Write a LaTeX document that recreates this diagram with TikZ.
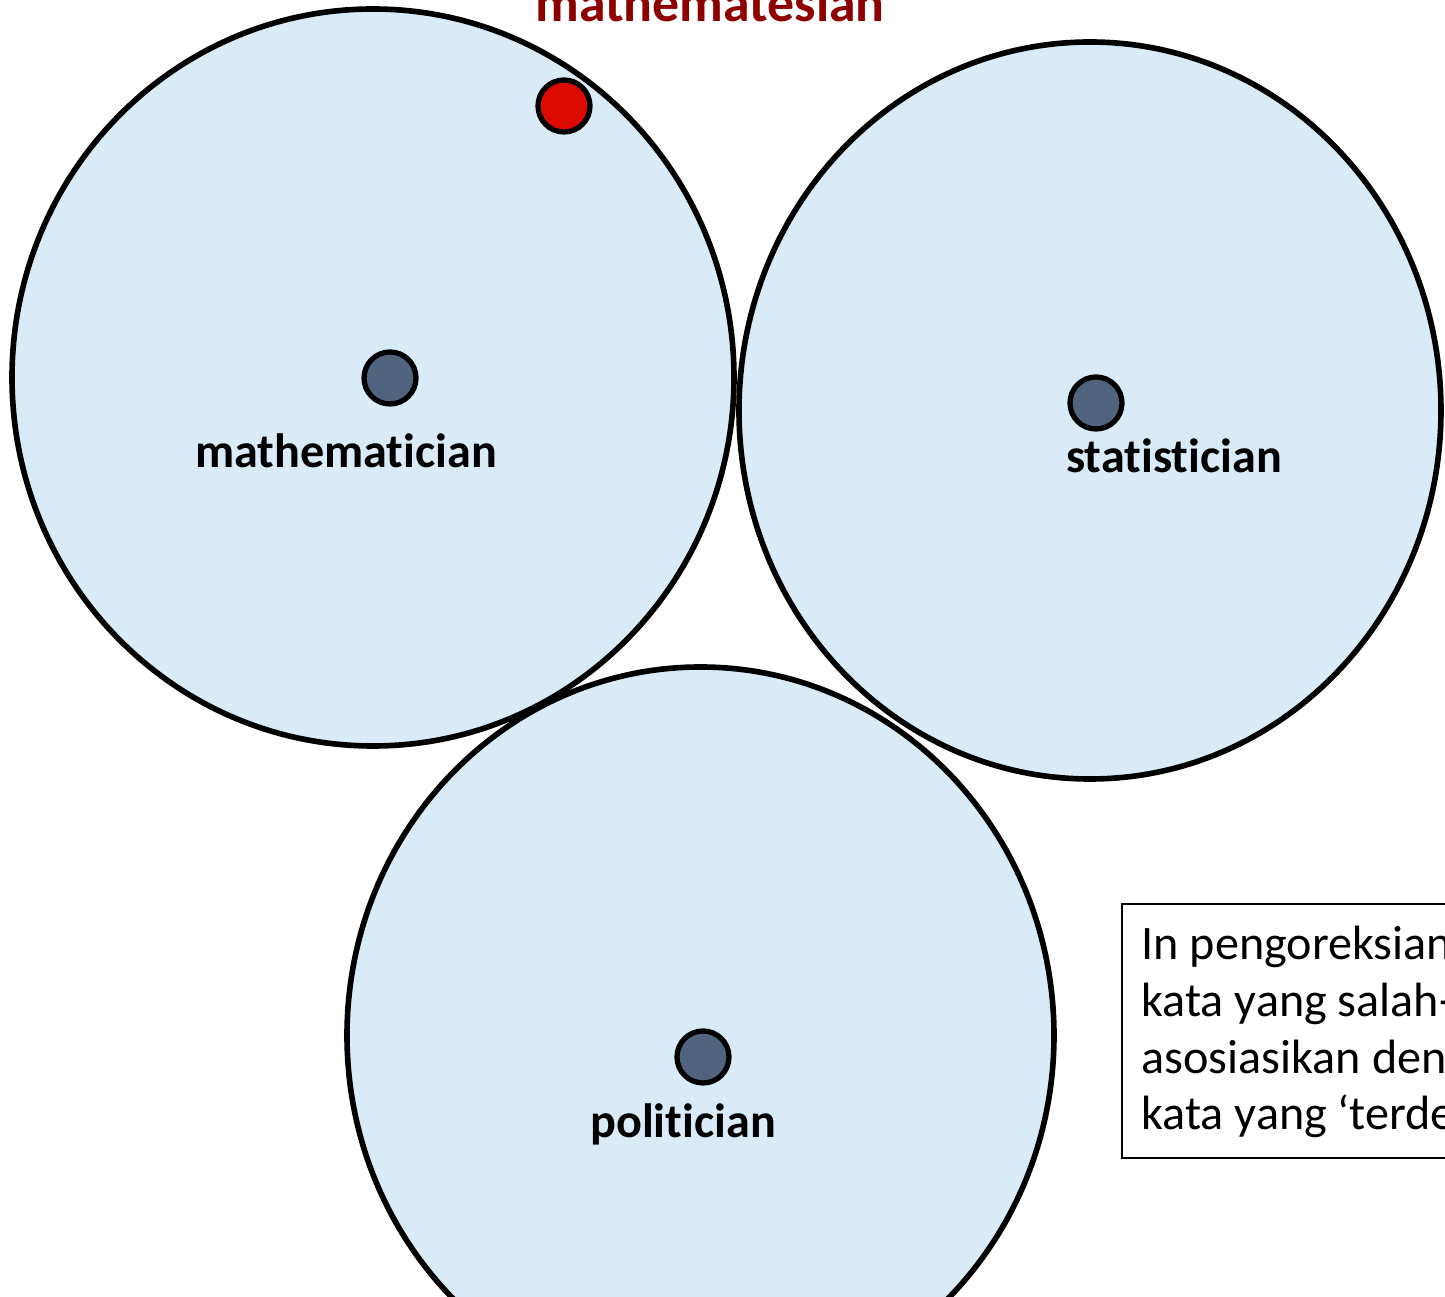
\documentclass[tikz,border=0pt]{standalone}
\usepackage{fontspec}
\setmainfont[Ligatures=NoCommon]{Carlito}
\definecolor{cloud}{HTML}{D8EBF6}
\definecolor{pin}{HTML}{50637F}
\definecolor{wrong}{HTML}{DD0A00}
\definecolor{title}{HTML}{8E0000}
\tikzset{
  field/.style={draw=black,line width=1.6pt,fill=cloud},
  word/.style={circle,draw=black,line width=1.5pt,fill=pin,minimum size=0.52cm,inner sep=0pt},
  tag/.style={font=\bfseries\fontsize{13.7}{16}\selectfont,inner sep=0pt,anchor=base},
}
\begin{document}
\begin{tikzpicture}
\useasboundingbox (0,0) rectangle (14.45,-12.97);
\clip (0,0) rectangle (14.45,-12.97);

\draw[field] (3.73,-3.775) ellipse[x radius=3.61,y radius=3.685];
\draw[field] (10.90,-4.105) ellipse[x radius=3.51,y radius=3.685];
\draw[field] (7.005,-10.355) ellipse[x radius=3.535,y radius=3.685];

\node[word] (math) at (3.90,-3.78) {};
\node[word] (stat) at (10.96,-4.03) {};
\node[word] (poli) at (7.03,-10.57) {};
\node[word,fill=wrong] (typo) at (5.64,-1.06) {};

\node[tag] (mathlbl) at (3.46,-4.68) {mathematician};
\node[tag] (statlbl) at (11.74,-4.73) {statistician};
\node[tag] (polilbl) at (6.83,-11.38) {politician};
\node[tag,text=title,font=\bfseries\fontsize{15.3}{18}\selectfont] (typolbl) at (7.10,-0.22) {mathematesian};

\node[draw=black,line width=0.7pt,fill=white,anchor=north west,minimum width=4cm,minimum height=2.54cm,
      inner sep=0pt] (note) at (11.21,-9.03) {};
\node[anchor=north west,align=left,inner sep=0pt,font=\fontsize{13.7}{16.2}\selectfont] (notetxt) at (11.41,-9.25)
  {In pengoreksian\\kata yang salah-\\asosiasikan den\\kata yang ‘terde};
\end{tikzpicture}
\end{document}
